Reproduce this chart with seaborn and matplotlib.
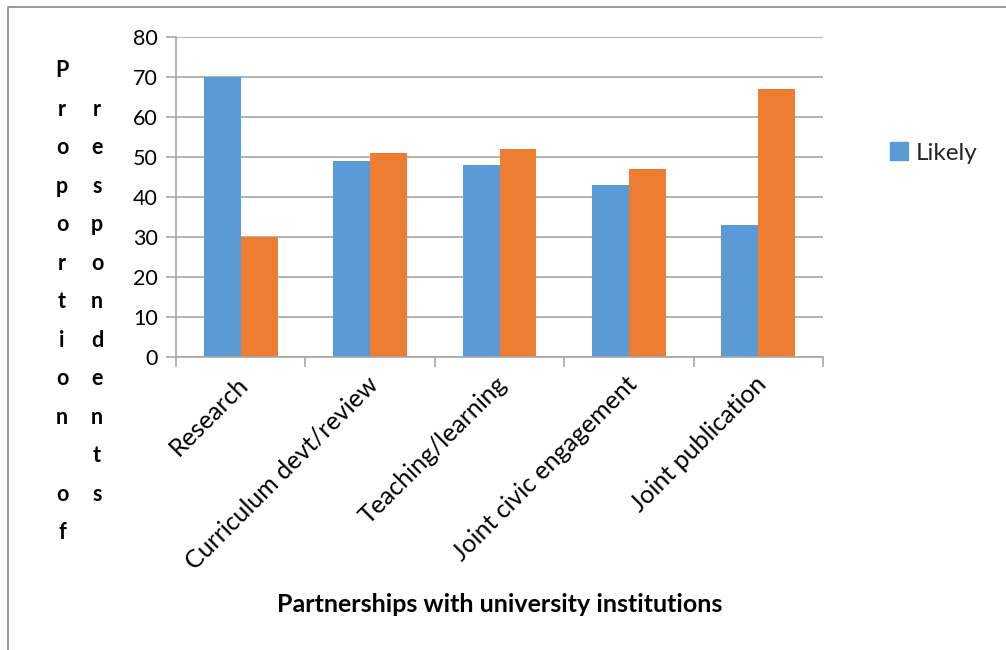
import matplotlib
matplotlib.use("Agg")
import matplotlib.pyplot as plt
import matplotlib.patches as mpatches
from matplotlib.ticker import FixedLocator
import matplotlib.transforms as mtrans
import seaborn as sns
import pandas as pd

# ---- data ----
categories = ["Research", "Curriculum devt/review", "Teaching/learning",
              "Joint civic engagement", "Joint publication"]
likely = [70, 49, 48, 43, 33]
unlikely = [30, 51, 52, 47, 67]
series_names = ["Likely", "Unlikely"]
y_ticks = [0, 10, 20, 30, 40, 50, 60, 70, 80]
x_title = "Partnerships with university institutions"
y_col1 = ["P", "r", "o", "p", "o", "r", "t", "i", "o", "n", "", "o", "f"]
y_col2 = ["", "r", "e", "s", "p", "o", "n", "d", "e", "n", "t", "s"]

df = pd.DataFrame({
    "category": categories * 2,
    "series": [series_names[0]] * len(categories) + [series_names[1]] * len(categories),
    "value": likely + unlikely,
})

sns.set_theme(style="white")
plt.rcParams["font.family"] = ["Lato", "DejaVu Sans"]

W, H = 1006, 650
fig = plt.figure(figsize=(W / 100, H / 100), dpi=100)
ax = fig.add_axes([176 / W, 1 - 357 / H, (823 - 176) / W, (357 - 37) / H])

palette = {"Likely": "#5B9BD5", "Unlikely": "#ED7D31"}
sns.barplot(data=df, x="category", y="value", hue="series", order=categories,
            hue_order=series_names, palette=palette, width=0.57, saturation=1,
            ax=ax, legend=False, edgecolor="none", linewidth=0)

grid_c = "#A6A6A6"
ax.set_ylim(0, 80)
ax.set_xlim(-0.5, len(categories) - 0.5)
ax.yaxis.set_major_locator(FixedLocator(y_ticks))
ax.set_yticklabels([str(t) for t in y_ticks], fontsize=15.5, color="#000000")
ax.grid(axis="y", color=grid_c, linewidth=1.2)
ax.set_axisbelow(True)

for s in ["top", "right"]:
    ax.spines[s].set_visible(False)
for s in ["left", "bottom"]:
    ax.spines[s].set_color(grid_c)
    ax.spines[s].set_linewidth(1.2)

ax.tick_params(axis="y", which="major", length=7, width=1.2, color=grid_c,
               direction="out", left=True, pad=6)
# x: category boundaries as ticks, labels at centers
ax.xaxis.set_minor_locator(FixedLocator([i - 0.5 for i in range(len(categories) + 1)]))
ax.tick_params(axis="x", which="minor", length=7, width=1.2, color=grid_c,
               direction="out", bottom=True)
ax.tick_params(axis="x", which="major", length=0, pad=11)
ax.set_xticks(range(len(categories)))
ax.set_xticklabels(categories, rotation=45, ha="right", rotation_mode="anchor",
                   fontsize=18, color="#000000")
shift = mtrans.ScaledTranslation(-4 / 100, 0, fig.dpi_scale_trans)
for lbl in ax.get_xticklabels():
    lbl.set_transform(lbl.get_transform() + shift)
ax.set_xlabel("")
ax.set_ylabel("")

# x-axis title
fig.text(500 / W, 1 - 605 / H, x_title, ha="center", va="center",
         fontsize=18, fontweight="bold", color="#000000")

# stacked y-axis title (two columns of letters)
for xpos, letters in [(62, y_col1), (97, y_col2)]:
    fig.text(xpos / W, 1 - 60 / H, "\n".join(letters), ha="center", va="top",
             fontsize=15.5, fontweight="bold", color="#000000", linespacing=2.03)

# legend (only "Likely" visible)
handle = mpatches.Patch(color=palette["Likely"], label=series_names[0])
fig.legend(handles=[handle], loc="center left",
           bbox_to_anchor=(890 / W, 1 - 153 / H), frameon=False,
           fontsize=17.5, handlelength=0.72, handleheight=0.72,
           handletextpad=0.35, borderaxespad=0, borderpad=0)

# outer chart-area border (cropped at right and bottom)
fig.patches.append(mpatches.Rectangle((8 / W, -0.1), 1.2, 1.1 - 7 / H,
                                      transform=fig.transFigure, fill=False,
                                      edgecolor="#898989", linewidth=1.2))

fig.savefig("out.png", dpi=100)
